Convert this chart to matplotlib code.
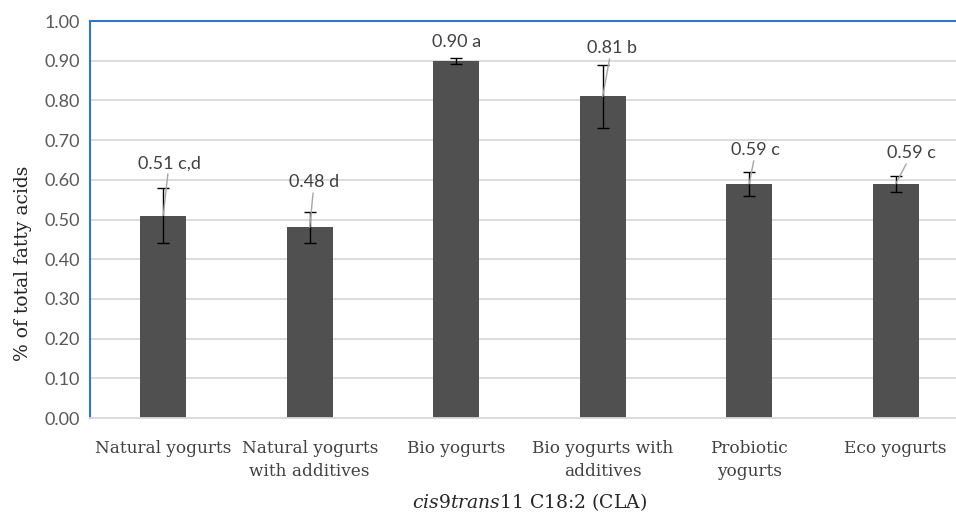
import matplotlib
matplotlib.use("Agg")
import matplotlib.pyplot as plt

# data
categories = ["Natural yogurts", "Natural yogurts\nwith additives", "Bio yogurts",
              "Bio yogurts with\nadditives", "Probiotic\nyogurts", "Eco yogurts"]
values = [0.51, 0.48, 0.90, 0.81, 0.59, 0.59]
errors = [0.07, 0.04, 0.008, 0.08, 0.03, 0.02]
labels = ["0.51 c,d", "0.48 d", "0.90 a", "0.81 b", "0.59 c", "0.59 c"]
yticks = [0.0, 0.1, 0.2, 0.3, 0.4, 0.5, 0.6, 0.7, 0.8, 0.9, 1.0]

# label placement (layout only)
label_dx = [0.04, 0.03, 0.0, 0.06, 0.045, 0.11]
label_y = [0.642, 0.594, 0.947, 0.932, 0.675, 0.667]
leader = [True, True, False, True, True, True]

plt.rcParams['mathtext.fontset'] = 'custom'
plt.rcParams['mathtext.rm'] = 'DejaVu Serif'
plt.rcParams['mathtext.it'] = 'DejaVu Serif:italic'

fig = plt.figure(figsize=(9.56, 5.15), dpi=100)
ax = fig.add_axes([0.0941, 0.1883, 0.9195, 0.7709])

x = list(range(len(categories)))
ax.bar(x, values, width=0.314, color="#505050", zorder=2)
ax.errorbar(x, values, yerr=errors, fmt="none", ecolor="black", elinewidth=1.0,
            capsize=4, capthick=1.0, zorder=3)

for i in x:
    arrow = dict(arrowstyle="-", color="#a6a6a6", lw=1.0, shrinkA=0, shrinkB=0) if leader[i] else None
    ax.annotate(labels[i], xy=(i, values[i]), xytext=(i + label_dx[i], label_y[i]),
                ha="center", va="center", fontsize=13, family="Lato", color="#404040",
                arrowprops=arrow, zorder=4)

ax.set_xlim(-0.5, 5.5)
ax.set_ylim(0, 1.0)
ax.set_yticks(yticks)
ax.set_yticklabels([f"{t:.2f}" for t in yticks], family="Lato", fontsize=13, color="#595959")
ax.set_xticks(x)
ax.set_xticklabels(categories, family="DejaVu Serif", fontsize=12.2, color="#404040",
                   linespacing=1.45)
ax.tick_params(axis="both", length=0)
ax.tick_params(axis="x", pad=16)
ax.tick_params(axis="y", pad=7)

ax.yaxis.grid(True, color="#d9d9d9", lw=1.3, zorder=0)
ax.set_axisbelow(True)

for s in ["top", "left"]:
    ax.spines[s].set_color("#2e75d6")
    ax.spines[s].set_linewidth(1.5)
ax.spines["bottom"].set_color("#d9d9d9")
ax.spines["bottom"].set_linewidth(1.3)
ax.spines["right"].set_visible(False)

ax.set_ylabel("% of total fatty acids", family="DejaVu Serif", fontsize=13.5, color="#262626")
ax.yaxis.set_label_coords(-0.066, 0.39)
ax.set_xlabel(r"$\it{cis}$9$\it{trans}$11 C18:2 (CLA)", family="DejaVu Serif", fontsize=13.5,
              color="#262626", labelpad=8)

fig.savefig("out.png", dpi=100)
